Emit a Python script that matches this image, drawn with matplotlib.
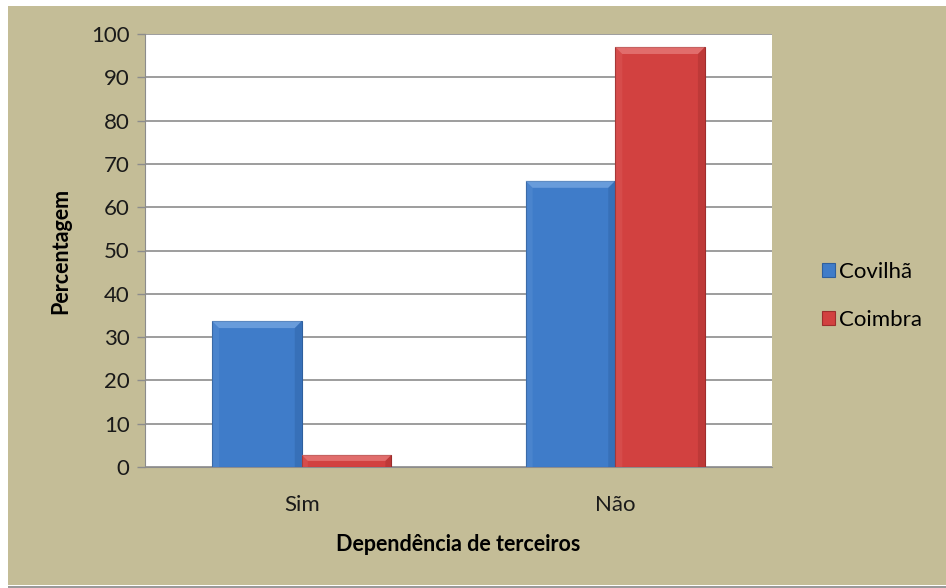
import matplotlib.pyplot as plt
from matplotlib.patches import Rectangle, Polygon
import numpy as np

categorias = ['Sim', 'Não']
covilha = [33.7, 66.1]
coimbra = [2.8, 97.0]
series = ['Covilhã', 'Coimbra']

azul = '#3f7cc9'
vermelho = '#d24140'
fundo = '#c4bd97'

plt.rcParams['font.family'] = ['Lato', 'DejaVu Sans']

fig = plt.figure(figsize=(9.46, 5.88), dpi=100, facecolor='white')
fig.patches.append(Rectangle((8 / 946, 3 / 588), 1, 579 / 588,
                             transform=fig.transFigure, facecolor=fundo,
                             edgecolor='none', zorder=-10))
fig.patches.append(Rectangle((8 / 946, 0), 1, 2 / 588, transform=fig.transFigure,
                             facecolor='#9a9a9a', edgecolor='none', zorder=-10))

ax = fig.add_axes([145 / 946, 1 - 467 / 588, (772 - 145) / 946, (467 - 34) / 588])
ax.set_facecolor('white')

x = np.arange(len(categorias))
w = 0.286
b1 = ax.bar(x - w / 2, covilha, w, color=azul, edgecolor='#2e5f9e', linewidth=0.8, zorder=3)
b2 = ax.bar(x + w / 2, coimbra, w, color=vermelho, edgecolor='#9e2e2d', linewidth=0.8, zorder=3)


# bevel simples nas barras
def bevel(barras, claro, escuro):
    inv = ax.transData.inverted()
    for r in barras:
        x0, y0 = ax.transData.transform((r.get_x(), 0))
        x1, y1 = ax.transData.transform((r.get_x() + r.get_width(), r.get_height()))
        d = min(7, (y1 - y0) / 2)
        partes = [
            ([(x0, y1), (x1, y1), (x1 - d, y1 - d), (x0 + d, y1 - d)], claro, 0.45),
            ([(x0, y0), (x0, y1), (x0 + d, y1 - d), (x0 + d, y0)], claro, 0.12),
            ([(x1, y0), (x1, y1), (x1 - d, y1 - d), (x1 - d, y0)], escuro, 0.22),
        ]
        for p, c, a in partes:
            ax.add_patch(Polygon(inv.transform(p), closed=True, facecolor=c, alpha=a,
                                 edgecolor='none', zorder=4))


ax.set_ylim(0, 100)
ax.set_xlim(-0.5, 1.5)
bevel(b1, '#9cc4f2', '#1f4880')
bevel(b2, '#f5a3a2', '#7a1f1e')

ax.set_yticks(range(0, 101, 10))
ax.yaxis.grid(True, color='#8c8c8c', linewidth=1.2, zorder=0)
ax.set_axisbelow(True)
ax.set_xticks(x)
ax.set_xticklabels(categorias)
ax.tick_params(axis='x', length=0, labelsize=16, pad=20, colors='#1a1a1a')
ax.tick_params(axis='y', length=6, width=1, color='#8c8c8c', labelsize=16, pad=5,
               labelcolor='#1a1a1a')
for s in ['top', 'right']:
    ax.spines[s].set_visible(False)
ax.spines['left'].set_color('#8c8c8c')
ax.spines['bottom'].set_color('#8c8c8c')

ax.set_ylabel('Percentagem', fontsize=15.5, fontweight='bold', labelpad=14)
ax.set_xlabel('Dependência de terceiros', fontsize=15.5, fontweight='bold', labelpad=14)

ax.legend([b1, b2], series, loc='center left', bbox_to_anchor=(1.065, 0.395),
          borderaxespad=0, frameon=False, fontsize=16, handlelength=0.6,
          handleheight=0.6, handletextpad=0.2, labelspacing=1.25)

fig.savefig('out.png', dpi=100, facecolor=fig.get_facecolor())
